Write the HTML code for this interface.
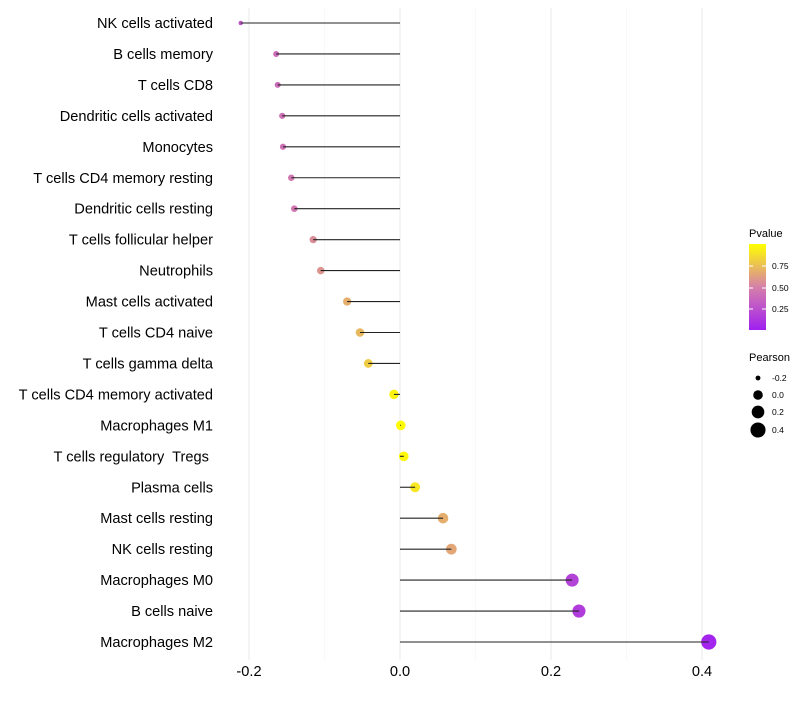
<!DOCTYPE html>
<html><head><meta charset="utf-8"><style>
body{margin:0;background:#fff;font-family:"Liberation Sans",sans-serif;}
svg text{font-family:"Liberation Sans",sans-serif;white-space:pre;}
</style></head><body>
<svg id="c" width="800" height="700"></svg>
<script>
const categories=["NK cells activated","B cells memory","T cells CD8","Dendritic cells activated","Monocytes","T cells CD4 memory resting","Dendritic cells resting","T cells follicular helper","Neutrophils","Mast cells activated","T cells CD4 naive","T cells gamma delta","T cells CD4 memory activated","Macrophages M1","T cells regulatory  Tregs ","Plasma cells","Mast cells resting","NK cells resting","Macrophages M0","B cells naive","Macrophages M2"];
const pearson=[-0.211,-0.164,-0.162,-0.156,-0.155,-0.144,-0.140,-0.115,-0.105,-0.070,-0.053,-0.042,-0.008,0.001,0.005,0.020,0.057,0.068,0.228,0.237,0.409];
const pvalue=[0.30,0.40,0.40,0.42,0.42,0.46,0.45,0.55,0.58,0.68,0.72,0.80,0.95,0.99,0.97,0.90,0.68,0.65,0.18,0.15,0.02];
const xTicks=[-0.2,0,0.2,0.4];
const xTickLabels=["-0.2","0.0","0.2","0.4"];
const NS="http://www.w3.org/2000/svg";
const svg=document.getElementById('c');
const x=v=>400+v*755;
const y=i=>23+i*30.95;
const r=v=>Math.sqrt(5+(v+0.211)*85);
function col(p){
 const stops=[[0,[160,32,240]],[0.5,[214,128,170]],[1,[255,255,0]]];
 let a=stops[0],b=stops[1];if(p>0.5){a=stops[1];b=stops[2];}
 const t=(p-a[0])/(b[0]-a[0]);
 return 'rgb('+a[1].map((c,k)=>Math.round(c+(b[1][k]-c)*t)).join(',')+')';
}
function el(t,at,txt){const e=document.createElementNS(NS,t);for(const k in at)e.setAttribute(k,at[k]);if(txt!=null)e.textContent=txt;svg.appendChild(e);return e;}
[-0.1,0.1,0.3].forEach(v=>{const g=el('line',{x1:x(v),x2:x(v),y1:8,y2:660,stroke:'#f3f3f3','stroke-width':0.6});

});
xTicks.forEach((v,i)=>{const g=el('line',{x1:x(v),x2:x(v),y1:8,y2:660,stroke:'#ebebeb','stroke-width':1.1});


const t=el('text',{x:x(v),y:676,'text-anchor':'middle','font-size':14.6,fill:'#000'},xTickLabels[i]);

});
categories.forEach((c,i)=>{
 const t=el('text',{x:213,y:y(i)+5,'text-anchor':'end','font-size':14.6,fill:'#000'},c);
 
 
 const p=el('circle',{cx:x(pearson[i]),cy:y(i),r:r(pearson[i]),fill:col(pvalue[i])});
 
 
 const l=el('line',{x1:x(0),x2:x(pearson[i]),y1:y(i),y2:y(i),stroke:'#222','stroke-width':1.1});
 
 
});
const defs=el('defs',{});
const lg=document.createElementNS(NS,'linearGradient');lg.setAttribute('id','pg');lg.setAttribute('x1',0);lg.setAttribute('x2',0);lg.setAttribute('y1',1);lg.setAttribute('y2',0);
[[0,0],[0.5,0.5],[1,1]].forEach(s=>{const st=document.createElementNS(NS,'stop');st.setAttribute('offset',s[0]);st.setAttribute('stop-color',col(s[1]));lg.appendChild(st);});
defs.appendChild(lg);
const tt=el('text',{x:749,y:237,'font-size':11},'Pvalue');


const bar=el('rect',{x:749,y:244,width:17,height:86,fill:'url(#pg)'});


[["0.75",266],["0.50",288],["0.25",309]].forEach(a=>{
 el('line',{x1:749,x2:753,y1:a[1],y2:a[1],stroke:'#fff'});el('line',{x1:762,x2:766,y1:a[1],y2:a[1],stroke:'#fff'});
 const t=el('text',{x:772,y:a[1]+3,'font-size':8.5},a[0]);
 
 });
const pt=el('text',{x:749,y:361,'font-size':11},'Pearson');


[[-0.2,"-0.2",378],[0,"0.0",395],[0.2,"0.2",412],[0.4,"0.4",430]].forEach(a=>{
 const c=el('circle',{cx:758,cy:a[2],r:r(a[0]),fill:'#000'});
 
 
 const t=el('text',{x:772,y:a[2]+3,'font-size':8.5},a[1]);
 
 });
</script>
</body></html>
